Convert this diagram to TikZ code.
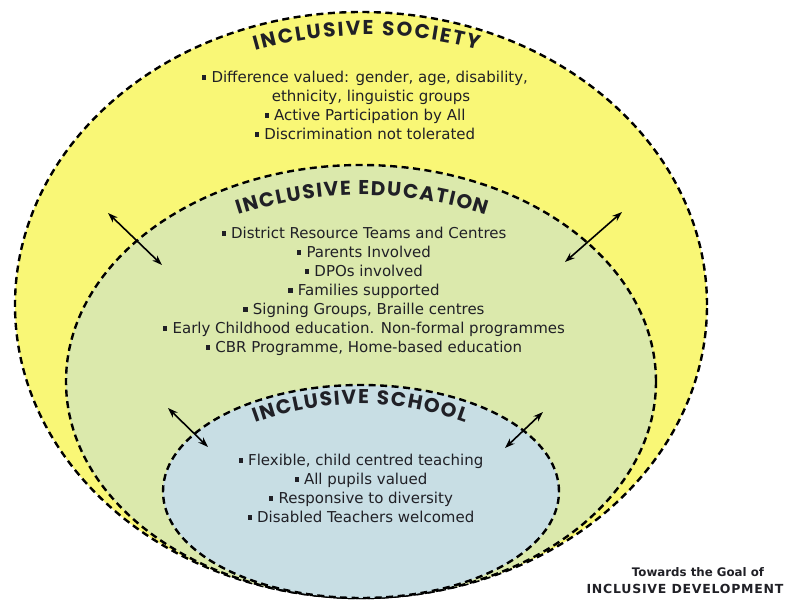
\documentclass[tikz,border=0pt]{standalone}
\usepackage{fontspec}
\setmainfont{DejaVu Sans}
\newfontfamily\headfont{Poppins}
\usetikzlibrary{arrows.meta, positioning, shapes, decorations.text}

\definecolor{societyyellow}{RGB}{249,247,118}
\definecolor{educationgreen}{RGB}{219,233,172}
\definecolor{schoolblue}{RGB}{200,222,228}
\definecolor{inkgray}{RGB}{32,32,38}

\newcommand{\sq}{\raisebox{0.2em}{\rule{0.28em}{0.28em}}\hspace{0.35em}}
\newcommand{\headstyle}{\fontsize{20}{21}\selectfont\headfont\bfseries\color{inkgray}}

\tikzstyle{zone} = [ellipse, draw=black, line width=2.4pt, dash pattern=on 7pt off 4.5pt, inner sep=0pt]
\tikzstyle{points} = [align=center, text=inkgray, font=\fontsize{15}{19}\selectfont]
\tikzstyle{twoway} = [line width=1.6pt, {Stealth[length=10pt,width=7pt]}-{Stealth[length=10pt,width=7pt]}]
\tikzstyle{heading} = [decorate, decoration={text along path, text align={fit to path}, text={|\headstyle|#1}}]

\begin{document}
\begin{tikzpicture}[x=1pt, y=-1pt]
	\useasboundingbox (0,0) rectangle (790,602);

	% the three nested zones
	\node[zone, fill=societyyellow, minimum width=692pt, minimum height=586pt] (society) at (361,305) {};
	\node[zone, fill=educationgreen, minimum width=590pt, minimum height=433pt] (education) at (361,381.5) {};
	\node[zone, fill=schoolblue, minimum width=396pt, minimum height=213pt] (school) at (361,491.5) {};

	% curved headings
	\path[heading={INCLUSIVE SOCIETY}] (255,50.8) .. controls (329.3,29.9) and (403.7,29.6) .. (478,49.9);
	\path[heading={INCLUSIVE EDUCATION}] (238,215) .. controls (320.7,188.3) and (403.3,188.3) .. (486,215);
	\path[heading={INCLUSIVE SCHOOL}] (255,423) .. controls (325,397.7) and (395,397.7) .. (465,423);

	% lists
	\node[points] (societylist) at (365,105.5) {\sq Difference valued: gender, age, disability,\\ \hspace*{12pt}ethnicity, linguistic groups\\ \sq Active Participation by All\\ \sq Discrimination not tolerated};
	\node[points] (educationlist) at (364,291.5) {\sq District Resource Teams and Centres\\ \sq Parents Involved\\ \sq DPOs involved\\ \sq Families supported\\ \sq Signing Groups, Braille centres\\ \sq Early Childhood education. Non-formal programmes\\ \sq CBR Programme, Home-based education};
	\node[points] (schoollist) at (361,488.5) {\sq Flexible, child centred teaching\\ \sq All pupils valued\\ \sq Responsive to diversity\\ \sq Disabled Teachers welcomed};

	% arrow ends
	\coordinate (ul1) at (108,213);
	\coordinate (ul2) at (162,265);
	\coordinate (ur1) at (622,212);
	\coordinate (ur2) at (565,262);
	\coordinate (ll1) at (168,408);
	\coordinate (ll2) at (208,447);
	\coordinate (lr1) at (543,412);
	\coordinate (lr2) at (505,448);

	\draw[twoway] (ul1) -- (ul2);
	\draw[twoway] (ur1) -- (ur2);
	\draw[twoway] (ll1) -- (ll2);
	\draw[twoway] (lr1) -- (lr2);

	% caption
	\node[text=inkgray, font=\fontsize{11.8}{14}\selectfont\bfseries] (goal) at (698,572) {Towards the Goal of};
	\node[text=inkgray, font=\fontsize{12.5}{14}\selectfont\bfseries\addfontfeatures{LetterSpace=6}] (dev) at (685,589) {INCLUSIVE DEVELOPMENT};
\end{tikzpicture}
\end{document}
